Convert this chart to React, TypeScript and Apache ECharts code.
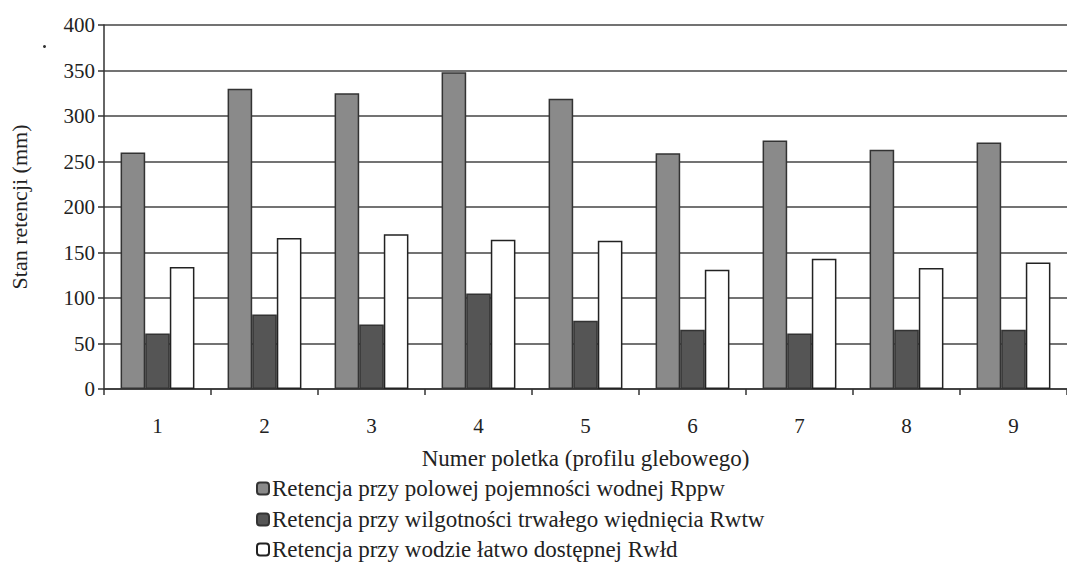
import React, { useEffect, useRef } from "react";
import * as echarts from "echarts";

const categories = ["1", "2", "3", "4", "5", "6", "7", "8", "9"];
const rppw = [260, 330, 325, 348, 319, 259, 273, 263, 271];
const rwtw = [61, 82, 71, 105, 75, 65, 61, 65, 65];
const rwld = [134, 166, 170, 164, 163, 131, 143, 133, 139];
const seriesNames = [
  "Retencja przy polowej pojemności wodnej Rppw",
  "Retencja przy wilgotności trwałego więdnięcia Rwtw",
  "Retencja przy wodzie łatwo dostępnej Rwłd",
];

const FONT = "Liberation Serif";

export default function App() {
  const ref = useRef<HTMLDivElement>(null);
  useEffect(() => {
    if (!ref.current) return;
    const chart = echarts.init(ref.current, null, { renderer: "svg" });
    const barBase = {
      type: "bar" as const,
      barWidth: "23%",
      barGap: "0%",
      barCategoryGap: "31%",
    };
    const legendTops = [472, 503, 533];
    chart.setOption({
      animation: false,
      backgroundColor: "#ffffff",
      textStyle: { fontFamily: FONT, color: "#222" },
      grid: { left: 104, top: 25, bottom: 175, right: -5, containLabel: false },
      legend: seriesNames.map((n, i) => ({
        orient: "vertical",
        left: 251,
        top: legendTops[i],
        itemWidth: 12,
        itemHeight: 12,
        itemGap: 0,
        icon: "roundRect",
        textStyle: { fontFamily: FONT, fontSize: 23, color: "#222", padding: [0, 0, 0, -2] },
        data: [n],
      })),
      xAxis: {
        type: "category",
        data: categories,
        name: "Numer poletka (profilu glebowego)",
        nameLocation: "middle",
        nameGap: 58,
        nameTextStyle: { fontFamily: FONT, fontSize: 23, color: "#222" },
        axisLine: { lineStyle: { color: "#333", width: 1.5 } },
        axisTick: { show: true, length: 6, lineStyle: { color: "#333", width: 1.5 } },
        axisLabel: { fontFamily: FONT, fontSize: 21, color: "#222", margin: 26 },
        splitLine: { show: false },
      },
      yAxis: {
        type: "value",
        min: 0,
        max: 400,
        interval: 50,
        name: "Stan retencji (mm)",
        nameLocation: "middle",
        nameRotate: 90,
        nameGap: 74,
        nameTextStyle: { fontFamily: FONT, fontSize: 22, color: "#222" },
        axisLine: { show: true, lineStyle: { color: "#333", width: 1.5 } },
        axisTick: { show: true, length: 6, lineStyle: { color: "#333", width: 1.5 } },
        axisLabel: { fontFamily: FONT, fontSize: 21, color: "#222", margin: 9 },
        splitLine: { show: true, lineStyle: { color: "#444", width: 1.5 } },
      },
      series: [
        {
          ...barBase,
          name: seriesNames[0],
          data: rppw,
          itemStyle: { color: "#8a8a8a", borderColor: "#333", borderWidth: 1.5 },
        },
        {
          ...barBase,
          name: seriesNames[1],
          data: rwtw,
          itemStyle: { color: "#555555", borderColor: "#333", borderWidth: 1.5 },
        },
        {
          ...barBase,
          name: seriesNames[2],
          data: rwld,
          itemStyle: { color: "#ffffff", borderColor: "#222", borderWidth: 1.5 },
        },
      ],
      graphic: [
        { type: "circle", left: 43, top: 45, shape: { r: 1.5 }, style: { fill: "#333" } },
      ],
    });
    return () => chart.dispose();
  }, []);
  return <div ref={ref} style={{ width: 1067, height: 564, position: "absolute", left: 0, top: 0 }} />;
}
